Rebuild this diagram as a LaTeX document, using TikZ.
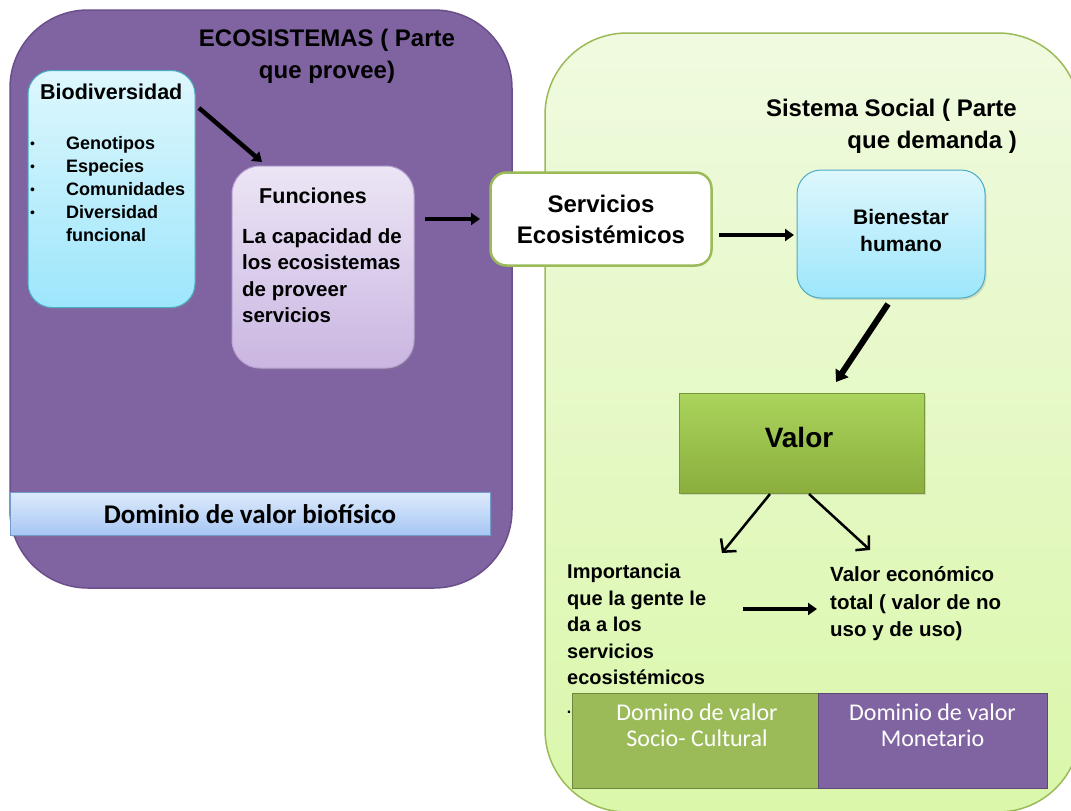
\documentclass[tikz,border=0pt]{standalone}
\usepackage{fontspec}
\setmainfont{Liberation Sans}
\newfontfamily\calibri{Carlito}
\usetikzlibrary{arrows.meta,shadows}
\definecolor{purplebg}{HTML}{8064A2}
\definecolor{purpleln}{HTML}{6A4F8A}
\definecolor{greentop}{HTML}{F0FAE0}
\definecolor{greenbot}{HTML}{DAF7AA}
\definecolor{greenln}{HTML}{9BBB59}
\definecolor{cyantop}{HTML}{DEF7FD}
\definecolor{cyanbot}{HTML}{9DE6FB}
\definecolor{cyanln}{HTML}{4BACC6}
\definecolor{lavtop}{HTML}{ECE5F5}
\definecolor{lavbot}{HTML}{CAB6E1}
\definecolor{lavln}{HTML}{B8A2D4}
\definecolor{bluetop}{HTML}{DDEBFC}
\definecolor{bluebot}{HTML}{A7C6F3}
\definecolor{blueln}{HTML}{4F81BD}
\definecolor{valtop}{HTML}{AAD45C}
\definecolor{valbot}{HTML}{8BAE3D}
\definecolor{valln}{HTML}{78973A}
\definecolor{gbar}{HTML}{9BBB59}
\definecolor{gbarln}{HTML}{6F873E}
\definecolor{pbarln}{HTML}{5C4776}
\begin{document}
\begin{tikzpicture}[x=1pt,y=-1pt,
  shd/.style={drop shadow={opacity=0.25,shadow xshift=1.5pt,shadow yshift=-2pt}},
  cyanbox/.style={shd,rectangle,rounded corners=24pt,draw=cyanln,line width=1pt,top color=cyantop,bottom color=cyanbot},
  lavbox/.style={shd,rectangle,rounded corners=28pt,draw=lavln,line width=1pt,top color=lavtop,bottom color=lavbot},
  servbox/.style={rectangle,rounded corners=16pt,draw=greenln,line width=2.5pt,fill=white},
  valbox/.style={shd,rectangle,draw=valln,line width=1pt,top color=valtop,bottom color=valbot},
  bluebar/.style={shd,rectangle,draw=blueln!80,line width=0.8pt,top color=bluetop,bottom color=bluebot},
  greenbar/.style={rectangle,draw=gbarln,line width=1pt,fill=gbar},
  purplebar/.style={rectangle,draw=pbarln,line width=1pt,fill=purplebg},
  txt/.style={inner sep=0pt,anchor=base west,align=left,font=\bfseries},
  ctxt/.style={inner sep=0pt,anchor=base,align=center,font=\bfseries},
  thick arrow/.style={line width=4.5pt,-{Triangle[length=9pt,width=12pt]}},
  thin arrow/.style={line width=2.5pt,-{Straight Barb[length=9pt,width=20pt]}}
]
\useasboundingbox (0,0) rectangle (1071,811);
\clip (0,0) rectangle (1071,811);
\fill[white] (0,0) rectangle (1071,811);

% panels
\path[draw=purpleln,line width=1.5pt,fill=purplebg,rounded corners=78pt] (10,10) rectangle (512,588);
\path[draw=greenln,line width=1.5pt,top color=greentop,bottom color=greenbot,rounded corners=82pt] (545,33) rectangle (1080,812);

% panel titles (base anchor = last line baseline)
\node[ctxt,font=\bfseries\fontsize{24}{32}\selectfont] (ecotitle) at (327,78) {ECOSISTEMAS ( Parte\\que provee)};
\node[inner sep=0pt,anchor=base east,align=right,font=\bfseries\fontsize{24}{32}\selectfont] (soctitle) at (1017,148) {Sistema Social ( Parte\\que demanda )};

% Biodiversidad
\node[cyanbox,minimum width=167pt,minimum height=237pt] (bio) at (111.5,189) {};
\node[txt,font=\bfseries\fontsize{21.5}{26}\selectfont] (biot) at (40,99) {Biodiversidad};
\node[txt,font=\bfseries\fontsize{18}{23}\selectfont] (biol) at (66,241.5) {Genotipos\\Especies\\Comunidades\\Diversidad\\funcional};
\node[txt,font=\fontsize{14}{23}\selectfont] (biob) at (30,217) {\textbullet\\\textbullet\\\textbullet\\\textbullet};

% Funciones
\node[lavbox,minimum width=182pt,minimum height=202pt] (fun) at (323,267) {};
\node[ctxt,font=\bfseries\fontsize{21.5}{26}\selectfont] (funt) at (313,203) {Funciones};
\node[txt,font=\bfseries\fontsize{20.5}{26.6}\selectfont] (funl) at (242,322.8) {La capacidad de\\los ecosistemas\\de proveer\\servicios};

% Servicios
\node[servbox,minimum width=221pt,minimum height=93pt] (serv) at (601,219) {};
\node[ctxt,font=\bfseries\fontsize{24}{31}\selectfont] (servt) at (601,243) {Servicios\\Ecosist\'emicos};

% Bienestar
\node[cyanbox,minimum width=188pt,minimum height=128pt] (bien) at (891,234) {};
\node[ctxt,font=\bfseries\fontsize{21}{27}\selectfont] (bient) at (901,251.5) {Bienestar\\humano};

% Valor
\node[valbox,minimum width=245pt,minimum height=100pt] (val) at (801.5,443) {};
\node[ctxt,font=\bfseries\fontsize{28}{30}\selectfont] (valt) at (799,447) {Valor};

% lower texts
\node[txt,font=\bfseries\fontsize{20}{26.5}\selectfont] (imp) at (567,684.5) {Importancia\\que la gente le\\da a los\\servicios\\ecosist\'emicos};
\node[txt,font=\bfseries\fontsize{20.5}{27.5}\selectfont] (vet) at (830,636.5) {Valor econ\'omico\\total ( valor de no\\uso y de uso)};

% biofisico bar
\node[bluebar,minimum width=480pt,minimum height=43pt] (bfbar) at (250.5,513.5) {};
\node[ctxt,font=\calibri\bfseries\fontsize{27}{30}\selectfont] (bft) at (250,523) {Dominio de valor biof\'isico};

% bottom bars
\node[greenbar,minimum width=246pt,minimum height=95pt] (gb) at (695,741) {};
\node[purplebar,minimum width=229pt,minimum height=95pt] (pb) at (932.5,741) {};
\node[ctxt,font=\calibri\fontsize{24}{26}\selectfont,text=white] (gbt) at (697,746) {Domino de valor\\Socio- Cultural};
\node[ctxt,font=\calibri\fontsize{24}{26}\selectfont,text=white] (pbt) at (932.5,746) {Dominio de valor\\Monetario};
\node[inner sep=0pt,anchor=base,font=\bfseries\fontsize{16}{16}\selectfont] (dot) at (569,713) {.};

% connector coordinates
\coordinate (a1s) at (199,108);
\coordinate (a1e) at (262,162);
\coordinate (a2s) at (425,219);
\coordinate (a2e) at (480,219);
\coordinate (a3s) at (719,235);
\coordinate (a3e) at (794,235);
\coordinate (a4s) at (888,304);
\coordinate (a4e) at (836,382);
\coordinate (a5s) at (770,494);
\coordinate (a5e) at (722,553);
\coordinate (a6s) at (809,494);
\coordinate (a6e) at (870,550);
\coordinate (a7s) at (743,609);
\coordinate (a7e) at (817,609);

\draw[thick arrow] (a1s) -- (a1e);
\draw[thick arrow] (a2s) -- (a2e);
\draw[thick arrow] (a3s) -- (a3e);
\draw[line width=6pt,-{Triangle[length=11pt,width=15pt]}] (a4s) -- (a4e);
\draw[thin arrow] (a5s) -- (a5e);
\draw[thin arrow] (a6s) -- (a6e);
\draw[thick arrow] (a7s) -- (a7e);
\end{tikzpicture}
\end{document}
